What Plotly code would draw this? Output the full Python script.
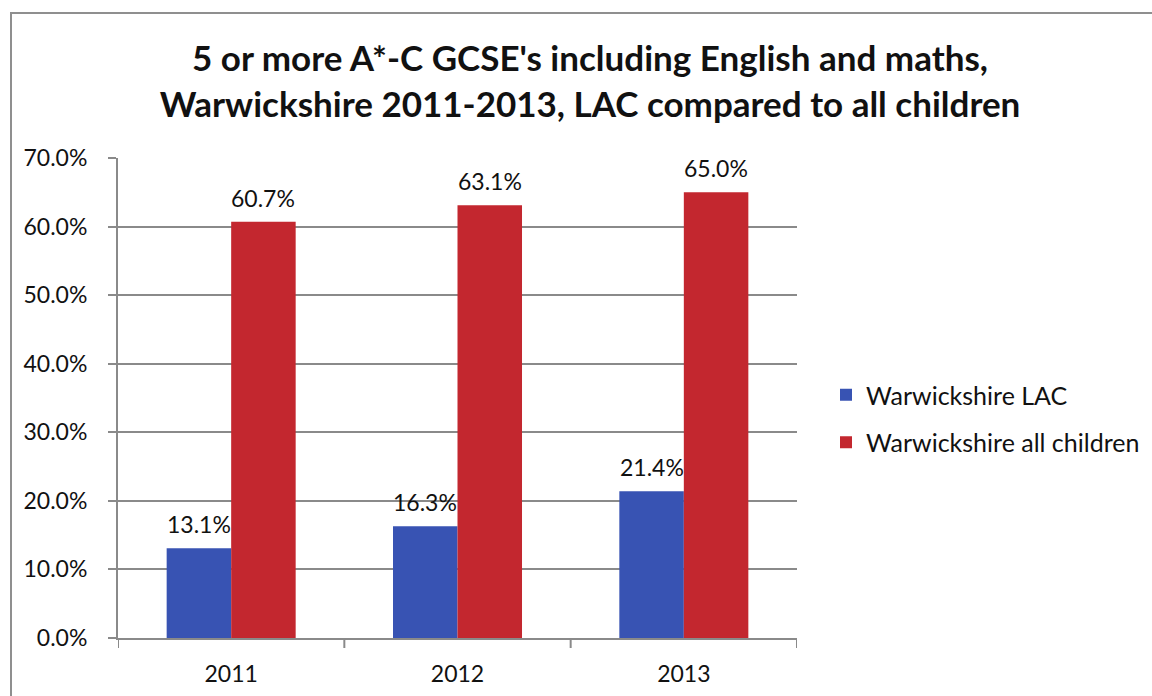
import plotly.graph_objects as go

years = ["2011", "2012", "2013"]
lac = [13.1, 16.3, 21.4]
all_children = [60.7, 63.1, 65.0]
series_names = ["Warwickshire LAC", "Warwickshire all children"]
title_lines = ["5 or more A*-C GCSE's including English and maths,",
               "Warwickshire 2011-2013, LAC compared to all children"]

FONT = "Lato, 'Open Sans', sans-serif"
BLUE = "#3853b3"
RED = "#c3272f"
FS = 23
BARGAP = 0.43
BAR_W = (1 - BARGAP) / 2

fig = go.Figure()
annotations = []
for k, (name, vals, col) in enumerate([(series_names[0], lac, BLUE),
                                       (series_names[1], all_children, RED)]):
    off = -BAR_W if k == 0 else 0.0
    fig.add_trace(go.Bar(
        x=list(range(len(years))), y=vals, name=name, legendgroup=f"g{k}",
        width=BAR_W, offset=off,
        marker=dict(color=col, line=dict(width=0)),
    ))
    for i, v in enumerate(vals):
        annotations.append(dict(
            x=i + off + BAR_W / 2, y=v, xref="x", yref="y",
            text=f"{v:.1f}%", showarrow=False, yanchor="bottom", yshift=8,
            font=dict(size=FS, color="#111", family=FONT)))

L, R, T, B = 118, 355, 158, 58
W, H = 1152, 696
pw, ph = W - L - R, H - T - B

def px_x(p):
    return (p - L) / pw

def px_y(p):
    return (H - B - p) / ph

fig.update_layout(
    width=W, height=H,
    margin=dict(l=L, r=R, t=T, b=B, autoexpand=False),
    paper_bgcolor="white", plot_bgcolor="white",
    font=dict(family=FONT, size=FS, color="#111"),
    title=dict(text="<br>".join(title_lines), x=px_x(590), xref="paper", xanchor="center",
               y=1 - 71 / H, yanchor="middle", yref="container",
               font=dict(size=35, family=FONT, color="#111", weight="bold")),
    barmode="overlay",
    showlegend=True,
    legend=dict(x=px_x(826), y=px_y(372), xanchor="left", yanchor="top",
                font=dict(size=25, family=FONT), itemwidth=30, tracegroupgap=12,
                bgcolor="rgba(0,0,0,0)"),
    xaxis=dict(range=[-0.5, len(years) - 0.5],
               tickmode="array", tickvals=list(range(len(years))), ticktext=years,
               showline=True, linecolor="#8a8a8a", linewidth=2, ticks="",
               tickfont=dict(size=FS), showgrid=False, ticklabelstandoff=14),
    yaxis=dict(range=[0, 70], dtick=10, tickformat=".1f", ticksuffix="%",
               showline=True, linecolor="#8a8a8a", linewidth=2, ticks="outside",
               ticklen=8, tickcolor="#8a8a8a", tickwidth=2,
               showgrid=True, gridcolor="#8a8a8a", gridwidth=2,
               tickfont=dict(size=FS), zeroline=False, ticklabelstandoff=16),
    annotations=annotations,
    shapes=[dict(type="rect", xref="paper", yref="paper",
                 x0=px_x(11), x1=px_x(1170), y0=px_y(13), y1=px_y(720),
                 line=dict(color="#8f8f8f", width=2), layer="below")]
           + [dict(type="line", xref="x", yref="paper", x0=b, x1=b, y0=0, y1=-10 / ph,
                   line=dict(color="#8a8a8a", width=2))
              for b in [i - 0.5 for i in range(len(years) + 1)]],
)

fig.write_html("out.html")
